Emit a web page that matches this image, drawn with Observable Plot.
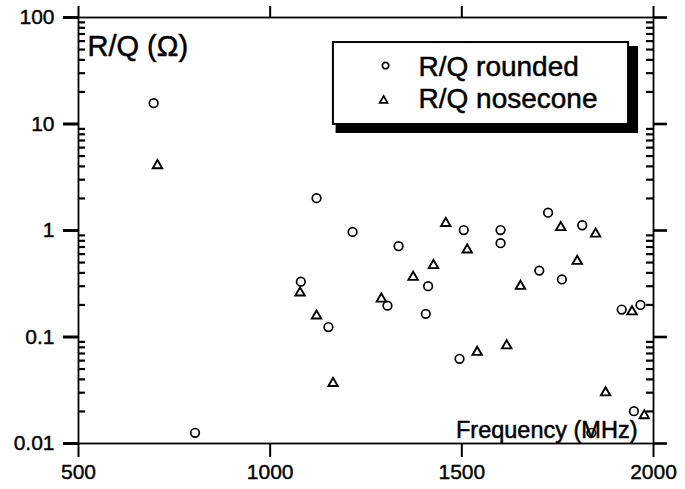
<!DOCTYPE html>
<html>
<head>
<meta charset="utf-8">
<script src="https://cdn.jsdelivr.net/npm/d3@7"></script>
<script src="https://cdn.jsdelivr.net/npm/@observablehq/plot@0.6"></script>
<style>
  html, body { margin: 0; padding: 0; background: #fff; }
  #chart svg { display: block; background: #fff; color: #000; }
</style>
</head>
<body>
<div id="chart"></div>
<script>
// ---- data ----
const seriesNames = ["R/Q rounded", "R/Q nosecone"];

const roundedFreq = [696, 804, 1080, 1121, 1152, 1215, 1306, 1335, 1406, 1412, 1494, 1505, 1601, 1601, 1702, 1725, 1761, 1814, 1838, 1917, 1949, 1966];
const roundedRQ   = [15.7, 0.0126, 0.331, 2.01, 0.124, 0.97, 0.197, 0.712, 0.165, 0.30, 0.0624, 1.01, 1.01, 0.76, 0.42, 1.47, 0.347, 1.12, 0.0126, 0.181, 0.0201, 0.20];

const noseFreq = [706, 1078, 1121, 1164, 1290, 1373, 1426, 1458, 1514, 1540, 1617, 1653, 1758, 1801, 1849, 1875, 1944, 1976];
const noseRQ   = [4.08, 0.26, 0.158, 0.0368, 0.228, 0.365, 0.47, 1.17, 0.659, 0.072, 0.083, 0.30, 1.07, 0.515, 0.93, 0.030, 0.173, 0.0183];

const xTicks = [500, 1000, 1500, 2000];
const xTickLabels = ["500", "1000", "1500", "2000"];
const yTicks = [0.01, 0.1, 1, 10, 100];
const yTickLabels = ["0.01", "0.1", "1", "10", "100"];

const yLabel = "R/Q (\u03A9)";
const xLabel = "Frequency (MHz)";

// legend placement (data coordinates)
const legendBox    = {x1: 1165, x2: 1935, y1: 9.9, y2: 58.2};
const legendShadow = {x1: 1172, x2: 1961, y1: 8.15, y2: 53.4};
const legendItems = [
  {name: seriesNames[0], symbol: "circle",   sx: 1301, sy: 35.4, tx: 1387, ty: 28.5},
  {name: seriesNames[1], symbol: "triangle", sx: 1296, sy: 16.6, tx: 1387, ty: 14.0}
];

// ---- build ----
const rounded = roundedFreq.map((f, i) => ({f, v: roundedRQ[i]}));
const nose = noseFreq.map((f, i) => ({f, v: noseRQ[i]}));

const minorTicks = [];
for (const dec of yTicks.slice(0, -1)) for (let k = 2; k <= 9; k++) minorTicks.push(+(k * dec).toPrecision(3));

const W = 685, H = 489;
const mL = 78, mR = 32, mT = 17, mB = 46;
const innerW = W - mL - mR;
const xDomain = [500, 2000];
const pxToMHz = (xDomain[1] - xDomain[0]) / innerW;   // tick lengths expressed in x units
const xFmt = new Map(xTicks.map((t, i) => [t, xTickLabels[i]]));
const yFmt = new Map(yTicks.map((t, i) => [t, yTickLabels[i]]));
const font = "Liberation Sans, Arial, Helvetica, sans-serif";
const heavy = {stroke: "black", strokeWidth: 0.5, fontFamily: font};

const chart = Plot.plot({
  width: W,
  height: H,
  marginLeft: mL,
  marginRight: mR,
  marginTop: mT,
  marginBottom: mB,
  x: {domain: xDomain},
  y: {type: "log", domain: [0.01, 100]},
  marks: [
    // y ticks: majors outward on both sides, minors inward on both sides
    Plot.ruleY(yTicks, {y: d => d, x1: xDomain[0] - 15 * pxToMHz, x2: xDomain[0], stroke: "black", strokeWidth: 2.6}),
    Plot.ruleY(yTicks, {y: d => d, x1: xDomain[1], x2: xDomain[1] + 14 * pxToMHz, stroke: "black", strokeWidth: 2.6}),
    Plot.ruleY(minorTicks, {y: d => d, x1: xDomain[0], x2: xDomain[0] + 7 * pxToMHz, stroke: "black", strokeWidth: 2.2}),
    Plot.ruleY(minorTicks, {y: d => d, x1: xDomain[1] - 7 * pxToMHz, x2: xDomain[1], stroke: "black", strokeWidth: 2.2}),
    // axes
    Plot.axisY({anchor: "left", ticks: yTicks, tickSize: 15, tickPadding: 9, fontSize: 21, fontFamily: font, stroke: "black", fill: "black", strokeWidth: 2.6, textStroke: "black", textStrokeWidth: 0.4, tickFormat: d => yFmt.get(d), label: null}),
    Plot.axisX({anchor: "bottom", ticks: xTicks, tickSize: 14, tickPadding: 7, fontSize: 21, fontFamily: font, stroke: "black", fill: "black", strokeWidth: 2, textStroke: "black", textStrokeWidth: 0.4, tickFormat: d => xFmt.get(d), label: null}),
    Plot.axisX({anchor: "top", ticks: xTicks, tickSize: 12, stroke: "black", strokeWidth: 2, fill: "none", label: null}),
    Plot.frame({stroke: "black", strokeWidth: 1.8}),

    // axis titles
    Plot.text([yLabel], {frameAnchor: "top-left", dx: 9, dy: 38, textAnchor: "start", lineAnchor: "bottom", fontSize: 29, fill: "black", ...heavy}),
    Plot.text([xLabel], {frameAnchor: "bottom-right", dx: -16, dy: -6, textAnchor: "end", lineAnchor: "bottom", fontSize: 23.5, fill: "black", ...heavy}),

    // data
    Plot.dot(rounded, {x: "f", y: "v", symbol: "circle", r: 4.3, stroke: "black", strokeWidth: 1.7, fill: "none"}),
    Plot.dot(nose, {x: "f", y: "v", symbol: "triangle", r: 3.5, stroke: "black", strokeWidth: 1.9, fill: "none"}),

    // legend
    Plot.rect([legendShadow], {x1: "x1", x2: "x2", y1: "y1", y2: "y2", fill: "black"}),
    Plot.rect([legendBox], {x1: "x1", x2: "x2", y1: "y1", y2: "y2", fill: "white", stroke: "black", strokeWidth: 2}),
    Plot.dot(legendItems, {x: "sx", y: "sy", symbol: "symbol", r: d => d.symbol === "circle" ? 4 : 3.3, stroke: "black", strokeWidth: 1.7, fill: "none"}),
    Plot.text(legendItems, {x: "tx", y: "ty", text: "name", textAnchor: "start", lineAnchor: "bottom", fontSize: 28, fill: "black", ...heavy})
  ]
});

document.getElementById("chart").appendChild(chart);
</script>
</body>
</html>
